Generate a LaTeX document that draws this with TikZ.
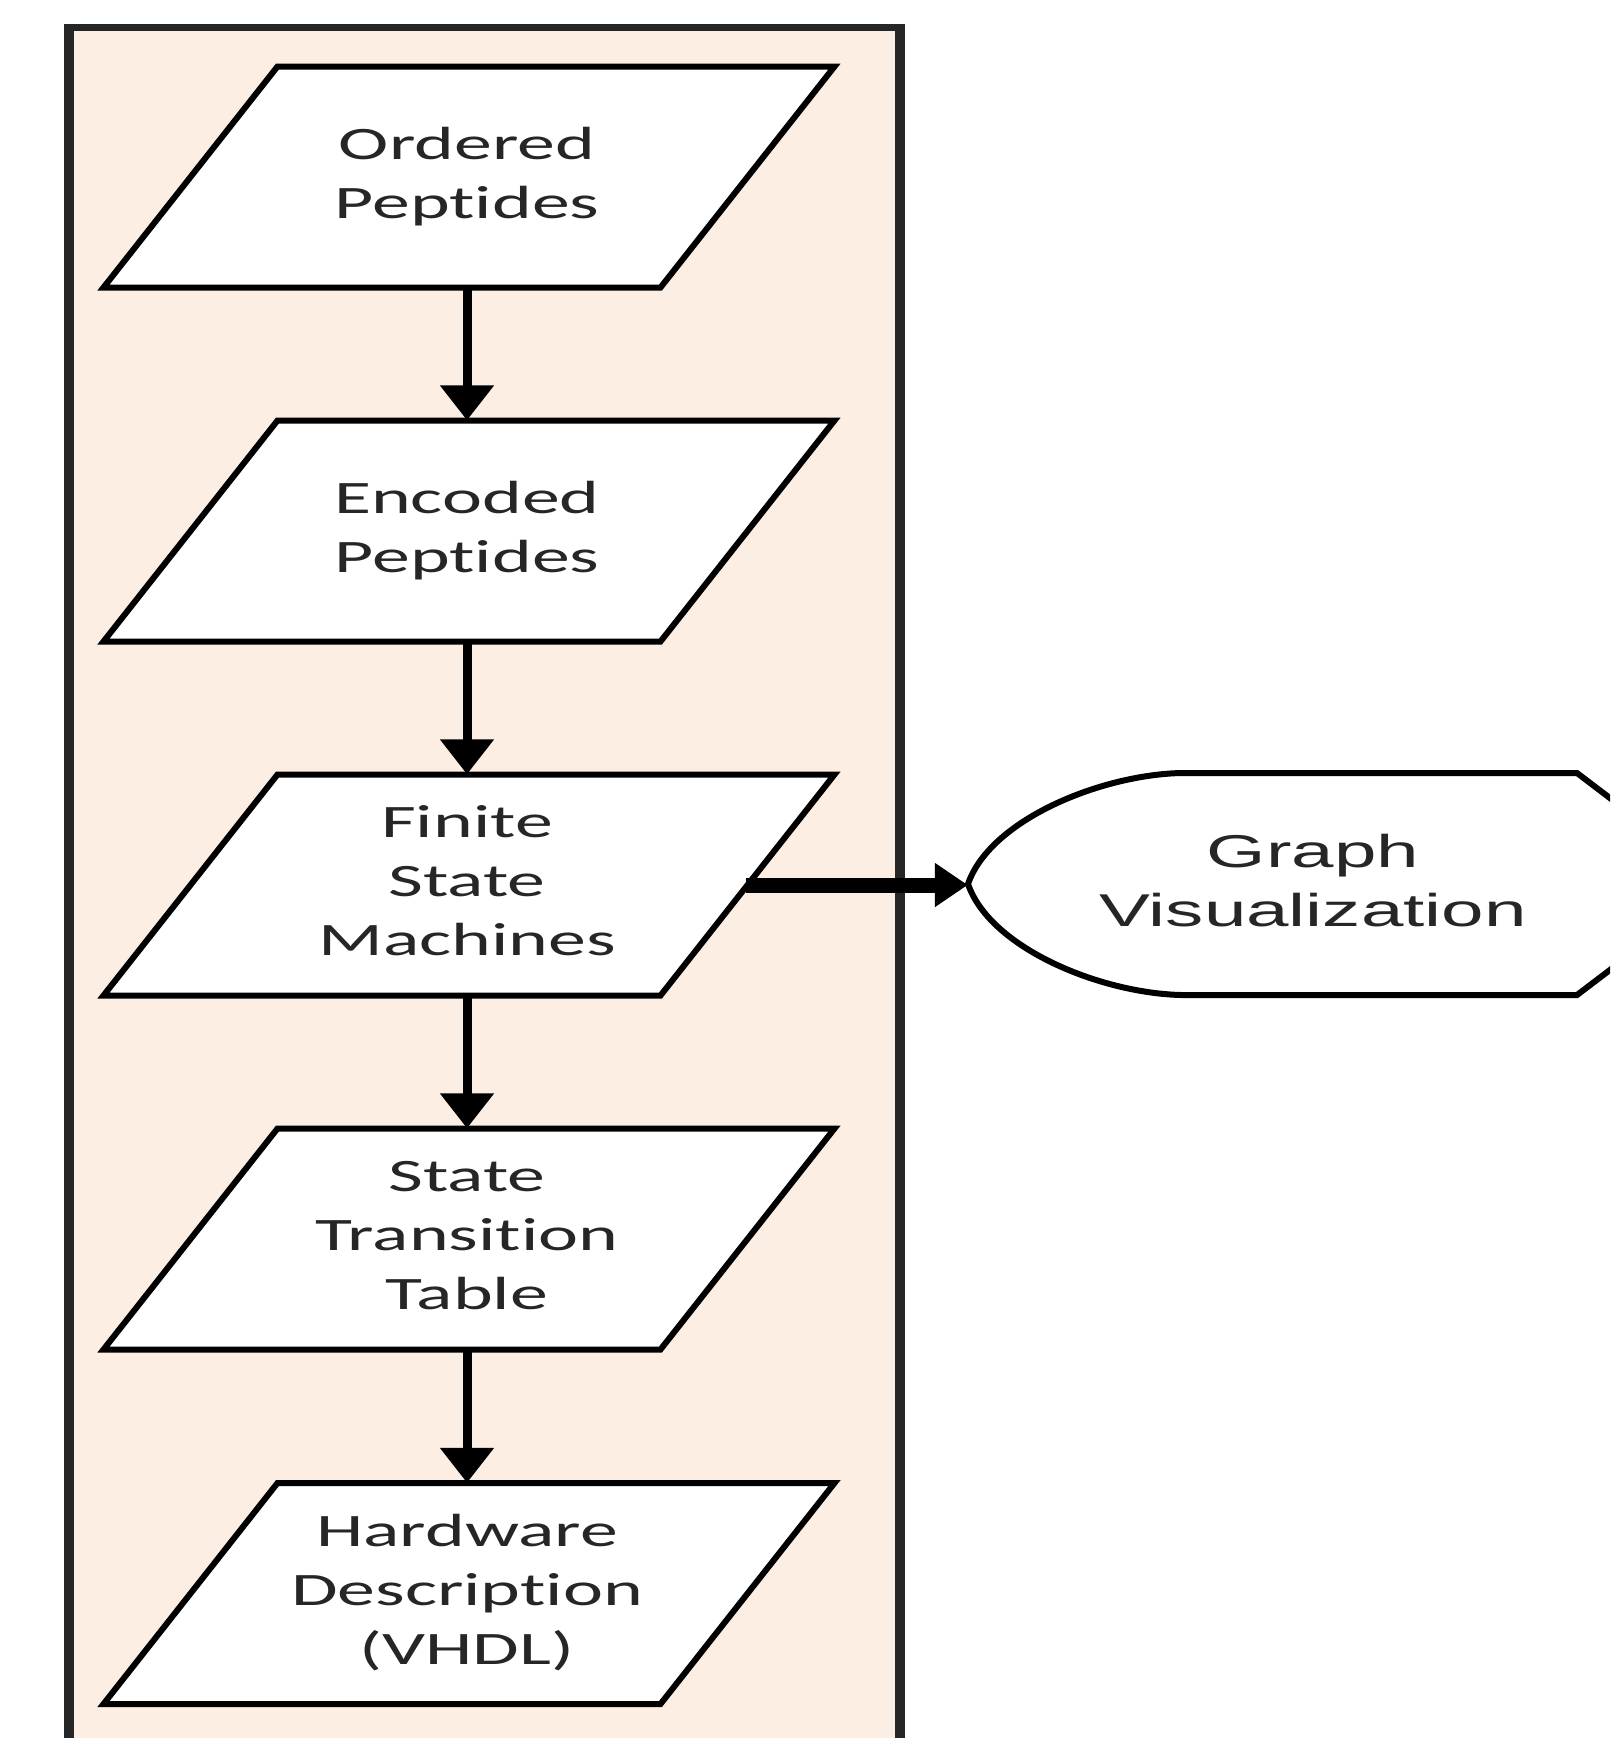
\documentclass[tikz,border=0pt]{standalone}
\usepackage{graphicx}
\usepackage{fontspec}
\usetikzlibrary{arrows.meta}
\newfontfamily\calib[RawFeature={-liga}]{Carlito}
\newfontfamily\arialf{Liberation Sans}
\definecolor{boxfill}{RGB}{252,238,227}
\definecolor{ink}{RGB}{38,38,38}
\newcommand\stretchtxt[2]{\scalebox{#1}[1]{\begin{tabular}{@{}c@{}}#2\end{tabular}}}
\newcommand\parallelo[1]{%
  \path[pshape] (277.5,#1-110.5) -- (834.5,#1-110.5) -- (660.5,#1+110.5) -- (103.5,#1+110.5) -- cycle;}
\begin{document}
\begin{tikzpicture}[x=1pt,y=-1pt,
  ptext/.style={font=\calib\fontsize{46.5}{59}\selectfont, text=ink},
  gtext/.style={font=\arialf\fontsize{46}{59}\selectfont, text=ink},
  anchorbox/.style={rectangle, inner sep=0pt, minimum width=557pt, minimum height=221pt},
  pshape/.style={draw=black, line width=6pt, fill=white, line join=miter},
  flow/.style={draw=black, line width=9pt, -{Triangle[width=52pt,length=35pt]}},
  side/.style={draw=black, line width=15pt, -{Triangle[width=42pt,length=33pt]}},
  edgeh/.style={draw=black!85, line width=7pt},
  edgev/.style={draw=black!85, line width=10pt},
]
\path[use as bounding box, clip] (0,0) rectangle (1610,1738);
% container
\fill[boxfill] (69,27) rectangle (900,1760);
\draw[edgeh] (64,27) -- (905,27);
\draw[edgev] (69,23.5) -- (69,1760);
\draw[edgev] (900,23.5) -- (900,1760);
% parallelograms
\parallelo{177}
\parallelo{531}
\parallelo{885}
\parallelo{1239}
\parallelo{1593.5}
\node[anchorbox, ptext] (p1) at (467,177) {\stretchtxt{1.63}{Ordered\\Peptides}};
\node[anchorbox, ptext] (p2) at (467,531) {\stretchtxt{1.63}{Encoded\\Peptides}};
\node[anchorbox, ptext] (p3) at (467,885) {\stretchtxt{1.63}{Finite\\State\\Machines}};
\node[anchorbox, ptext] (p4) at (467,1239) {\stretchtxt{1.63}{State\\Transition\\Table}};
\node[anchorbox, ptext] (p5) at (467,1593.5) {\stretchtxt{1.63}{Hardware\\Description\\(VHDL)}};
% display shape
\path[pshape] (1181,773) -- (1577,773) -- (1723,884) -- (1577,995) -- (1181,995)
  .. controls (1100,993) and (990,948) .. (968,884)
  .. controls (990,820) and (1100,775) .. (1181,773) -- cycle;
\node[rectangle, inner sep=0pt, minimum width=690pt, minimum height=221pt, gtext] (gv) at (1313,885) {\stretchtxt{1.66}{Graph\\Visualization}};
% connectors
\draw[flow] (p1.south) -- (p2.north);
\draw[flow] (p2.south) -- (p3.north);
\draw[flow] (p3.south) -- (p4.north);
\draw[flow] (p4.south) -- (p5.north);
\draw[side] (p3.east) -- (gv.west);
\end{tikzpicture}
\end{document}
